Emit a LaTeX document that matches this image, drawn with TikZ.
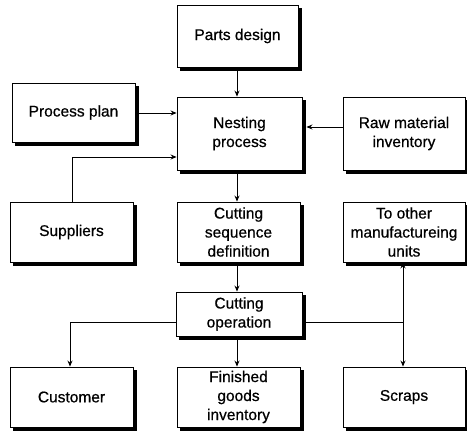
\documentclass[tikz,border=0pt]{standalone}
\usepackage{fontspec}
\setmainfont[FakeBold=0.6]{Liberation Sans}
\usetikzlibrary{arrows.meta,backgrounds}
\begin{document}
\begin{tikzpicture}[x=1pt,y=-1pt,
  box/.style={draw=black, line width=0.9pt, fill=white, align=center,
    inner sep=0pt, font=\fontsize{15.5}{19}\selectfont},
  shade box/.style={fill=black},
  link/.style={draw=black, line width=0.8pt},
  arr/.style={link, -{Stealth[length=6pt,width=5pt]}}]
\useasboundingbox (0,0) rectangle (467,433);

% top row
\node[box, minimum width=121pt, minimum height=62pt] (pd) at (237.5,36) {Parts design};
\node[box, minimum width=123pt, minimum height=59pt] (pp) at (73.5,112.5) {Process plan};
\node[box, minimum width=125pt, minimum height=73pt] (np) at (239.5,133.5) {Nesting\\process};
\node[box, minimum width=122pt, minimum height=73pt] (rm) at (404,133.5) {Raw material\\inventory};

% middle row
\node[box, minimum width=123pt, minimum height=60pt] (su) at (71.5,232) {Suppliers};
\node[box, minimum width=123pt, minimum height=60pt] (cs) at (238.5,232) {Cutting\\sequence\\definition};
\node[box, minimum width=122pt, minimum height=60pt] (to) at (404,232) {To other\\manufactureing\\units};

\node[box, minimum width=126pt, minimum height=44pt] (co) at (239,314) {Cutting\\operation};

% bottom row
\node[box, minimum width=123pt, minimum height=60pt] (cu) at (71.5,397) {Customer};
\node[box, minimum width=123pt, minimum height=60pt] (fg) at (238.5,397) {Finished\\goods\\inventory};
\node[box, minimum width=122pt, minimum height=60pt] (sc) at (404,397) {Scraps};

% drop shadows behind every box
\begin{scope}[on background layer]
  \foreach \n in {pd,pp,np,rm,su,cs,to,co,cu,fg,sc}
    \fill[shade box] ([xshift=3.5pt,yshift=-3.5pt]\n.south west)
      rectangle ([xshift=3.5pt,yshift=-3.5pt]\n.north east);
\end{scope}

% inputs to the nesting process
\draw[arr] (237,0 |- pd.south) -- (237,0 |- np.north);
\draw[arr] (pp.east |- 0,113) -- (np.west |- 0,113);
\draw[arr] (rm.west |- 0,127) -- ([xshift=4pt]np.east |- 0,127);
\draw[arr] (72,0 |- su.north) |- (np.west |- 0,157);

% main flow
\draw[arr] (237,0 |- np.south) -- (237,0 |- cs.north);
\draw[arr] (237,0 |- cs.south) -- (237,0 |- co.north);
\draw[arr] (237,0 |- co.south) -- (237,0 |- fg.north);

% outputs of the cutting operation
\draw[arr] (co.west |- 0,322) -| (70,0 |- cu.north);
\coordinate (j) at (403,322);
\draw[link] ([xshift=3.5pt]co.east |- 0,322) -- (j);
\draw[arr] (j) -- (403,0 |- to.south);
\draw[arr] (j) -- (403,0 |- sc.north);
\end{tikzpicture}
\end{document}
